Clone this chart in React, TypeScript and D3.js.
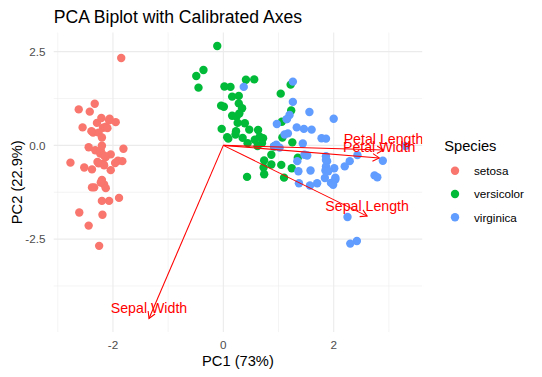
import React from 'react';
import * as d3 from 'd3';

// PCA scores
const setosaPC1 = [-2.26, -2.07, -2.36, -2.29, -2.38, -2.07, -2.44, -2.23, -2.33, -2.18, -2.16, -2.32, -2.21, -2.62, -2.19, -2.25, -2.20, -2.18, -1.89, -2.34, -1.91, -2.20, -2.77, -1.81, -2.22,
  -1.95, -2.04, -2.16, -2.13, -2.26, -2.13, -1.83, -2.61, -2.44, -2.10, -2.20, -2.04, -2.52, -2.42, -2.16, -2.28, -1.85, -2.55, -1.96, -2.13, -2.06, -2.38, -2.39, -2.22, -2.20];
const setosaPC2 = [-0.48, 0.67, 0.34, 0.60, -0.64, -1.48, -0.05, -0.22, 1.11, 0.47, -1.04, -0.13, 0.73, 0.96, -1.85, -2.68, -1.48, -0.49, -1.40, -1.12, -0.41, -0.92, -0.46, -0.09, -0.14,
  0.62, -0.24, -0.53, -0.31, 0.34, 0.50, -0.42, -1.79, -2.14, 0.46, 0.21, -0.66, -0.59, 0.90, -0.27, -0.44, 2.33, 0.48, -0.47, -1.14, 0.71, -1.12, 0.38, -0.99, -0.01];
const versicolorPC1 = [1.10, 0.73, 1.24, 0.41, 1.07, 0.39, 0.74, -0.49, 0.92, 0.01, -0.11, 0.44, 0.56, 0.72, -0.03, 0.87, 0.35, 0.16, 1.22, 0.16, 0.74, 0.47, 1.23, 0.63, 0.70,
  0.87, 1.25, 1.35, 0.66, -0.04, 0.13, 0.02, 0.24, 1.06, 0.22, 0.43, 1.05, 1.04, 0.07, 0.28, 0.28, 0.62, 0.34, -0.36, 0.29, 0.09, 0.23, 0.57, -0.45, 0.26];
const versicolorPC2 = [-0.86, -0.59, -0.61, 1.75, 0.21, 0.59, -0.77, 1.85, -0.03, 1.03, 2.65, 0.06, 1.76, 0.19, 0.44, -0.51, 0.20, 0.79, 1.62, 1.30, -0.40, 0.42, 0.93, 0.41, 0.06,
  -0.25, 0.08, -0.33, 0.23, 1.06, 1.56, 1.57, 0.77, 0.63, 0.29, -0.84, -0.52, 1.38, 0.22, 1.32, 1.12, -0.02, 0.99, 2.01, 0.85, 0.18, 0.38, 0.15, 1.54, 0.60];
const virginicaPC1 = [1.84, 1.15, 2.20, 1.44, 1.86, 2.74, 0.37, 2.29, 2.00, 2.25, 1.36, 1.60, 1.88, 1.26, 1.46, 1.58, 1.47, 2.42, 3.30, 1.26, 2.03, 0.97, 2.89, 1.33, 1.70,
  1.95, 1.17, 1.02, 1.78, 1.86, 2.43, 2.30, 1.86, 1.11, 1.20, 2.79, 1.57, 1.34, 0.92, 1.85, 2.01, 1.90, 1.15, 2.03, 1.99, 1.86, 1.56, 1.52, 1.37, 0.96];
const virginicaPC2 = [-0.87, 0.70, -0.56, 0.05, -0.29, -0.80, 1.56, -0.42, 0.71, -1.91, -0.69, 0.42, -0.42, 1.16, 0.44, -0.67, -0.25, -2.55, -0.02, 1.70, -0.91, 0.57, -0.41, 0.48, -1.01,
  -1.00, 0.32, -0.06, 0.19, -0.56, -0.26, -2.62, 0.18, 0.29, 0.81, -0.85, -1.07, -0.42, -0.02, -0.67, -0.61, -0.69, 0.70, -0.86, -1.05, -0.39, 0.89, -0.27, -1.01, 0.02];

const speciesNames = ['setosa', 'versicolor', 'virginica'];
const speciesColors = ['#F8766D', '#00BA38', '#619CFF'];

// Variable loadings (arrows)
const variableNames = ['Sepal.Length', 'Sepal.Width', 'Petal.Length', 'Petal.Width'];
const variableLabels = ['Sepal Length', 'Sepal Width', 'Petal Length', 'Petal Width'];
const loadingPC1 = [0.5211, -0.2693, 0.5804, 0.5649];
const loadingPC2 = [-0.3774, -0.9233, -0.0245, -0.0669];
const arrowScale = 5;

const xMajor = [-2, 0, 2];
const xMinor = [-3, -1, 1, 3];
const yMajor = [-2.5, 0, 2.5];
const yMinor = [-3.75, -1.25, 1.25];

const W = 542, H = 377;
const panel = { left: 53.7, right: 422.2, top: 32.4, bottom: 332.1 };
const FONT = '"Liberation Sans", Arial, Helvetica, sans-serif';

export default function App() {
  const groups = [
    { pc1: setosaPC1, pc2: setosaPC2 },
    { pc1: versicolorPC1, pc2: versicolorPC2 },
    { pc1: virginicaPC1, pc2: virginicaPC2 },
  ];
  const points = groups.flatMap((g, gi) => g.pc1.map((v, i) => ({ x: v, y: g.pc2[i], s: gi })));
  const arrows = variableNames.map((name, i) => ({
    name, label: variableLabels[i], x: loadingPC1[i] * arrowScale, y: loadingPC2[i] * arrowScale,
  }));

  const allX = [...points.map(p => p.x), ...arrows.map(a => a.x), 0];
  const allY = [...points.map(p => p.y), ...arrows.map(a => a.y), 0];
  const [x0, x1] = d3.extent(allX) as [number, number];
  const [y0, y1] = d3.extent(allY) as [number, number];
  const px = (x1 - x0) * 0.05, py = (y1 - y0) * 0.05;
  const x = d3.scaleLinear().domain([x0 - px, x1 + px]).range([panel.left, panel.right]);
  const y = d3.scaleLinear().domain([y0 - py, y1 + py]).range([panel.bottom, panel.top]);

  const headLen = 7.5;
  const headAng = Math.PI / 6;
  const fmtY = (v: number) => (v < 0 ? '-' : '') + Math.abs(v).toFixed(1);

  return (
    <svg width={W} height={H} style={{ position: 'absolute', left: 0, top: 0, background: '#fff' }} fontFamily={FONT}>
      <defs>
        <clipPath id="panelClip">
          <rect x={panel.left} y={panel.top} width={panel.right - panel.left} height={panel.bottom - panel.top} />
        </clipPath>
      </defs>
      {/* grid */}
      <g stroke="#EBEBEB" fill="none">
        {xMinor.map(v => (
          <line key={'xm' + v} x1={x(v)} x2={x(v)} y1={panel.top} y2={panel.bottom} strokeWidth={0.53} />
        ))}
        {yMinor.map(v => (
          <line key={'ym' + v} y1={y(v)} y2={y(v)} x1={panel.left} x2={panel.right} strokeWidth={0.53} />
        ))}
        {xMajor.map(v => (
          <line key={'xM' + v} x1={x(v)} x2={x(v)} y1={panel.top} y2={panel.bottom} strokeWidth={1.07} />
        ))}
        {yMajor.map(v => (
          <line key={'yM' + v} y1={y(v)} y2={y(v)} x1={panel.left} x2={panel.right} strokeWidth={1.07} />
        ))}
      </g>
      <g clipPath="url(#panelClip)">
        {/* points */}
        {points.map((p, i) => (
          <circle key={i} cx={x(p.x)} cy={y(p.y)} r={4.2} fill={speciesColors[p.s]} />
        ))}
        {/* arrows */}
        {arrows.map(a => {
          const sx = x(0), sy = y(0), ex = x(a.x), ey = y(a.y);
          const ang = Math.atan2(ey - sy, ex - sx);
          const h1 = [ex - headLen * Math.cos(ang - headAng), ey - headLen * Math.sin(ang - headAng)];
          const h2 = [ex - headLen * Math.cos(ang + headAng), ey - headLen * Math.sin(ang + headAng)];
          return (
            <g key={a.name} stroke="#FF0000" strokeWidth={1.07} fill="none">
              <line x1={sx} y1={sy} x2={ex} y2={ey} />
              <polyline points={`${h1[0]},${h1[1]} ${ex},${ey} ${h2[0]},${h2[1]}`} />
            </g>
          );
        })}
        {arrows.map(a => (
          <text key={'t' + a.name} x={x(a.x)} y={y(a.y) - 5.5} textAnchor="middle" fontSize={14.2} fill="#FF0000">
            {a.label}
          </text>
        ))}
      </g>
      {/* axis tick labels */}
      {xMajor.map(v => (
        <text key={'xt' + v} x={x(v)} y={349} textAnchor="middle" fontSize={11.7} fill="#4D4D4D">{v}</text>
      ))}
      {yMajor.map(v => (
        <text key={'yt' + v} x={45.5} y={y(v) + 4.2} textAnchor="end" fontSize={11.7} fill="#4D4D4D">{fmtY(v)}</text>
      ))}
      {/* axis titles */}
      <text x={(panel.left + panel.right) / 2} y={365.7} textAnchor="middle" fontSize={14.67} fill="#000">PC1 (73%)</text>
      <text transform={`translate(22.3,${(panel.top + panel.bottom) / 2}) rotate(-90)`} textAnchor="middle" fontSize={14.67} fill="#000">PC2 (22.9%)</text>
      {/* title */}
      <text x={53.7} y={22.7} fontSize={17.6} fill="#000">PCA Biplot with Calibrated Axes</text>
      {/* legend */}
      <text x={444.3} y={150.7} fontSize={14.67} fill="#000">Species</text>
      {speciesNames.map((s, i) => (
        <g key={s}>
          <circle cx={455} cy={170.7 + i * 23.3} r={4.2} fill={speciesColors[i]} />
          <text x={474} y={170.7 + i * 23.3 + 4.2} fontSize={11.7} fill="#000">{s}</text>
        </g>
      ))}
    </svg>
  );
}
